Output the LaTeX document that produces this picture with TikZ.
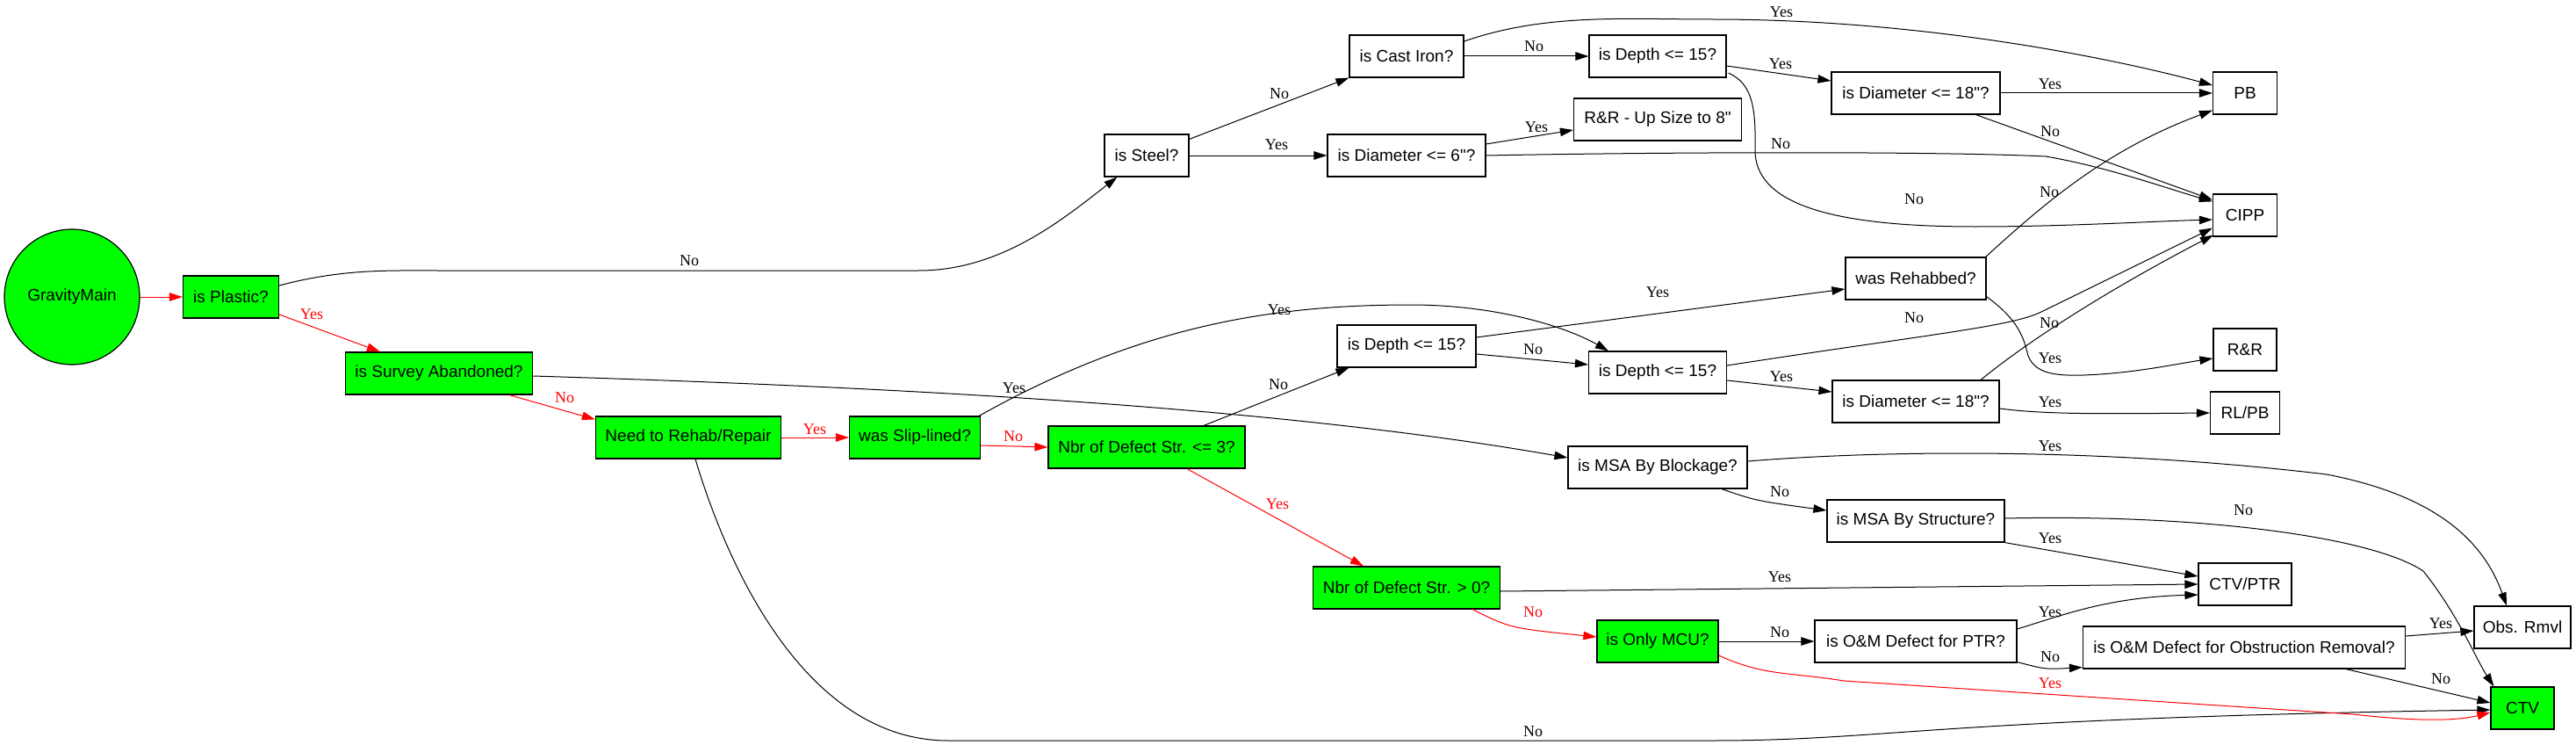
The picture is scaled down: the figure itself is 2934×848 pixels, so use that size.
\documentclass[tikz,border=0pt]{standalone}
\usepackage{fontspec}
\setmainfont{Liberation Serif}
\newfontfamily\nodefont{Liberation Sans}
\usetikzlibrary{arrows.meta,calc}
\definecolor{gvgreen}{RGB}{0,255,0}
\definecolor{gvred}{RGB}{255,0,0}
\begin{document}
\begin{tikzpicture}[x=1pt,y=-1pt,
 box/.style={draw=black,line width=1.2pt,rectangle,minimum height=48pt,inner sep=0pt,font=\nodefont\fontsize{19}{22}\selectfont,fill=white},
 gbox/.style={box,fill=gvgreen},
 edge/.style={line width=1pt,draw=black,-{Triangle[length=15pt,width=9.5pt]}},
 redge/.style={edge,draw=gvred},
 lbl/.style={font=\fontsize{18}{20}\selectfont,inner sep=0pt,text=black},
 rlbl/.style={lbl,text=gvred}]
\useasboundingbox (0,0) rectangle (2934,848);
% nodes
\node[gbox,circle,minimum size=154pt] (gm) at (82,338) {GravityMain};
\node[gbox,minimum width=109pt] (plastic) at (263,338) {is Plastic?};
\node[gbox,minimum width=213pt] (survey) at (500,425) {is Survey Abandoned?};
\node[gbox,minimum width=211pt] (need) at (784,498) {Need to Rehab/Repair};
\node[gbox,minimum width=149pt] (slip) at (1042,498) {was Slip-lined?};
\node[gbox,minimum width=224pt] (nbr3) at (1306,509) {Nbr of Defect Str. <= 3?};
\node[box,minimum width=96pt] (steel) at (1306,177) {is Steel?};
\node[box,minimum width=180pt] (dia6) at (1602,177) {is Diameter <= 6"?};
\node[box,minimum width=130pt] (castiron) at (1602,64) {is Cast Iron?};
\node[box,minimum width=156pt] (depthA) at (1888,64) {is Depth <= 15?};
\node[box,minimum width=191pt] (rrup) at (1888,136) {R\&R - Up Size to 8"};
\node[box,minimum width=192pt] (diaA) at (2182,106) {is Diameter <= 18"?};
\node[box,minimum width=73pt] (pb) at (2557,106) {PB};
\node[box,minimum width=73pt] (cipp) at (2557,245) {CIPP};
\node[box,minimum width=160pt] (rehabbed) at (2182,317) {was Rehabbed?};
\node[box,minimum width=158pt] (depthB) at (1602,394) {is Depth <= 15?};
\node[box,minimum width=157pt] (depthC) at (1888,424) {is Depth <= 15?};
\node[box,minimum width=190pt] (diaB) at (2182,457) {is Diameter <= 18"?};
\node[box,minimum width=72pt] (rr) at (2557,398) {R\&R};
\node[box,minimum width=79pt] (rlpb) at (2557,470) {RL/PB};
\node[box,minimum width=204pt] (msab) at (1888,532) {is MSA By Blockage?};
\node[box,minimum width=202pt] (msas) at (2182,593) {is MSA By Structure?};
\node[gbox,minimum width=213pt] (nbr0) at (1602,669) {Nbr of Defect Str. > 0?};
\node[box,minimum width=106pt] (ctvptr) at (2557,665) {CTV/PTR};
\node[gbox,minimum width=138pt] (mcu) at (1888,730) {is Only MCU?};
\node[box,minimum width=230pt] (ompt) at (2182,730) {is O\&M Defect for PTR?};
\node[box,minimum width=367pt] (omob) at (2556,737) {is O\&M Defect for Obstruction Removal?};
\node[box,minimum width=110pt] (obs) at (2873,714) {Obs. Rmvl};
\node[gbox,minimum width=72pt] (ctv) at (2873,806) {CTV};
% edges
\draw[redge] (gm.east) -- (plastic.west);
\draw[edge] ($(plastic.east)+(0,-13)$) .. controls (390,306) and (440,308) .. (500,308) -- (1046,308) .. controls (1140,308) and (1210,250) .. ($(steel.south west)+(15,0)$);
\node[lbl] (l1) at (785,297) {No};
\draw[redge] ($(plastic.east)+(0,20)$) -- ($(survey.north west)+(40,0)$);
\node[rlbl] (l2) at (355,358) {Yes};
\draw[redge] ($(survey.south east)+(-27,0)$) -- ($(need.north west)+(0,4)$);
\node[rlbl] (l3) at (643,453) {No};
\draw[edge] ($(survey.east)+(0,3)$) .. controls (1000,440) and (1450,462) .. ($(msab.west)+(0,-11)$);
\node[lbl] (l4) at (1155,442) {Yes};
\draw[redge] (need.east) -- (slip.west);
\node[rlbl] (l5) at (928,489) {Yes};
\draw[edge] ($(need.south)+(8,0)$) .. controls (830,650) and (920,843) .. (1080,843) -- (1950,843) .. controls (2150,843) and (2200,818) .. ($(ctv.west)+(0,2)$);
\node[lbl] (l6) at (1746,833) {No};
\draw[redge] ($(slip.east)+(0,9)$) -- (nbr3.west);
\node[rlbl] (l7) at (1154,497) {No};
\draw[edge] ($(slip.north east)+(-2,0)$) .. controls (1300,370) and (1450,347) .. (1607,347) .. controls (1700,347) and (1780,370) .. ($(depthC.north west)+(23,0)$);
\node[lbl] (l8) at (1457,353) {Yes};
\draw[edge] ($(nbr3.north)+(65,0)$) -- ($(depthB.south west)+(14,0)$);
\node[lbl] (l9) at (1456,438) {No};
\draw[redge] ($(nbr3.south)+(46,0)$) -- ($(nbr0.north west)+(58,0)$);
\node[rlbl] (l10) at (1455,574) {Yes};
\draw[edge] ($(steel.north east)+(0,6)$) -- (castiron.south west);
\node[lbl] (l11) at (1457,107) {No};
\draw[edge] (steel.east) -- (dia6.west);
\node[lbl] (l12) at (1454,165) {Yes};
\draw[edge] (castiron.east) -- (depthA.west);
\node[lbl] (l13) at (1747,53) {No};
\draw[edge] ($(castiron.east)+(0,-17)$) .. controls (1760,15) and (1850,22) .. (1950,22) .. controls (2200,22) and (2420,70) .. ($(pb.west)+(0,-9)$);
\node[lbl] (l14) at (2029,14) {Yes};
\draw[edge] ($(dia6.east)+(0,-13)$) -- ($(rrup.west)+(0,12)$);
\node[lbl] (l15) at (1750,145) {Yes};
\draw[edge] (dia6.east) .. controls (1900,173) and (2200,172) .. (2330,178) .. controls (2400,190) and (2470,215) .. ($(cipp.north west)+(0,9)$);
\node[lbl] (l16) at (2028,164) {No};
\draw[edge] ($(depthA.east)+(0,11)$) -- ($(diaA.west)+(0,-14)$);
\node[lbl] (l17) at (2028,73) {Yes};
\draw[edge] ($(depthA.east)+(2,19)$) .. controls (1995,95) and (2000,120) .. (1999,170) .. controls (1998,230) and (2080,258) .. (2250,258) .. controls (2350,258) and (2450,252) .. ($(cipp.west)+(0,5)$);
\node[lbl] (l18) at (2180,227) {No};
\draw[edge] (diaA.east) -- (pb.west);
\node[lbl] (l19) at (2335,96) {Yes};
\draw[edge] ($(diaA.south east)+(-28,0)$) -- ($(cipp.north west)+(0,7)$);
\node[lbl] (l20) at (2335,150) {No};
\draw[edge] ($(rehabbed.north east)+(-1,0)$) .. controls (2330,230) and (2400,170) .. ($(pb.south west)+(0,-5)$);
\node[lbl] (l21) at (2334,219) {No};
\draw[edge] ($(rehabbed.south east)+(0,-4)$) .. controls (2300,365) and (2305,385) .. (2310,405) .. controls (2318,425) and (2340,428) .. (2373,427) .. controls (2430,425) and (2480,414) .. ($(rr.west)+(0,10)$);
\node[lbl] (l22) at (2335,408) {Yes};
\draw[edge] ($(depthB.east)+(0,-10)$) -- ($(rehabbed.west)+(0,12)$);
\node[lbl] (l23) at (1888,333) {Yes};
\draw[edge] ($(depthB.east)+(0,9)$) -- ($(depthC.west)+(0,-9)$);
\node[lbl] (l24) at (1746,398) {No};
\draw[edge] ($(depthC.east)+(0,-8)$) .. controls (2200,380) and (2290,372) .. (2325,355) -- ($(cipp.south west)+(0,-10)$);
\node[lbl] (l25) at (2180,362) {No};
\draw[edge] ($(depthC.east)+(0,9)$) -- ($(diaB.west)+(0,-11)$);
\node[lbl] (l26) at (2029,429) {Yes};
\draw[edge] ($(diaB.north)+(74,0)$) .. controls (2320,380) and (2420,320) .. ($(cipp.south west)+(1,-2)$);
\node[lbl] (l27) at (2334,368) {No};
\draw[edge] ($(diaB.east)+(0,8)$) .. controls (2330,472) and (2400,471) .. (rlpb.west);
\node[lbl] (l28) at (2335,458) {Yes};
\draw[edge] ($(msab.east)+(0,-7)$) .. controls (2150,512) and (2400,510) .. (2650,540) .. controls (2780,565) and (2830,620) .. ($(obs.north)+(-18,0)$);
\node[lbl] (l29) at (2335,508) {Yes};
\draw[edge] ($(msab.south)+(73,0)$) .. controls (2000,570) .. ($(msas.west)+(0,-12)$);
\node[lbl] (l30) at (2027,560) {No};
\draw[edge] (msas.south east) -- ($(ctvptr.west)+(0,-9)$);
\node[lbl] (l31) at (2335,613) {Yes};
\draw[edge] ($(msas.east)+(0,-3)$) .. controls (2500,585) and (2700,610) .. (2760,650) .. controls (2800,700) and (2820,750) .. ($(ctv.north west)+(4,0)$);
\node[lbl] (l32) at (2555,581) {No};
\draw[edge] ($(nbr0.east)+(0,4)$) -- (ctvptr.west);
\node[lbl] (l33) at (2027,657) {Yes};
\draw[redge] ($(nbr0.south east)+(-32,0)$) .. controls (1720,715) .. ($(mcu.west)+(0,-5)$);
\node[rlbl] (l34) at (1746,697) {No};
\draw[edge] (mcu.east) -- (ompt.west);
\node[lbl] (l35) at (2027,720) {No};
\draw[redge] ($(mcu.east)+(0,16)$) .. controls (2010,770) and (2040,765) .. (2100,775) -- (2680,813) .. controls (2760,822) and (2800,820) .. ($(ctv.west)+(0,5)$);
\node[rlbl] (l36) at (2335,778) {Yes};
\draw[edge] ($(ompt.east)+(0,-14)$) .. controls (2350,700) and (2400,680) .. ($(ctvptr.west)+(0,12)$);
\node[lbl] (l37) at (2335,697) {Yes};
\draw[edge] ($(ompt.south east)+(0,-1)$) .. controls (2330,762) .. ($(omob.south west)+(0,-2)$);
\node[lbl] (l38) at (2335,748) {No};
\draw[edge] ($(omob.east)+(0,-13)$) -- ($(obs.west)+(0,4)$);
\node[lbl] (l39) at (2780,710) {Yes};
\draw[edge] ($(omob.south east)+(-68,0)$) -- ($(ctv.west)+(0,-6)$);
\node[lbl] (l40) at (2780,773) {No};
\end{tikzpicture}
\end{document}
